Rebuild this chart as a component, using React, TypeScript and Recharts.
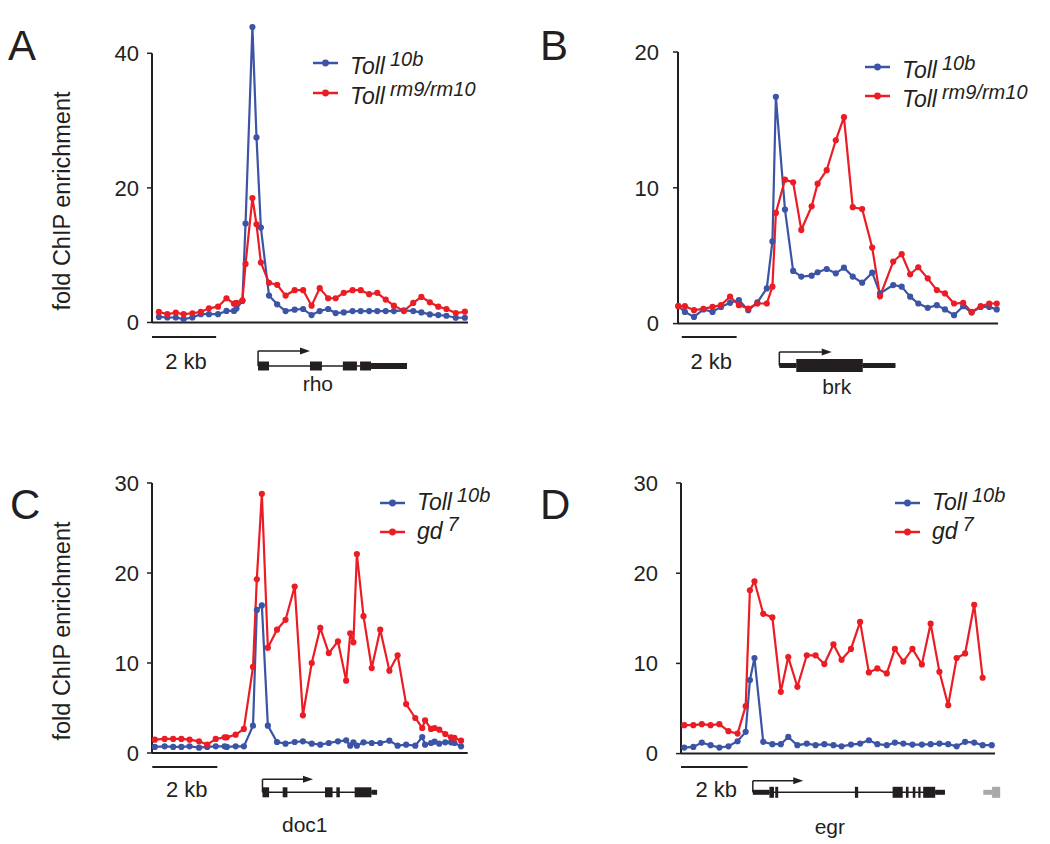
import React from 'react'
import { LineChart, Line, XAxis, YAxis, ReferenceLine } from 'recharts'

const FONT = '"Liberation Sans", Arial, Helvetica, sans-serif'
const INK = '#231f20'
const BLUE = '#3b54a5'
const RED = '#ec1c24'
const GREY = '#a7a9ac'

// positions along the locus, kb from the left end of each window
const rhoPos = [0.22, 0.49, 0.76, 1.01, 1.29, 1.56, 1.82, 2.11, 2.38, 2.62, 2.7, 2.89, 2.99, 3.21, 3.34, 3.48, 3.74, 4.0, 4.27, 4.56, 4.83, 5.1, 5.36, 5.63, 5.87, 6.13, 6.41, 6.67, 6.94, 7.2, 7.47, 7.73, 8.05, 8.35, 8.61, 8.88, 9.15, 9.41, 9.71, 10.0]
const rhoToll10b = [0.83, 0.74, 0.74, 0.49, 0.74, 1.23, 1.23, 1.23, 1.72, 1.72, 2.06, 3.19, 14.7, 43.9, 27.5, 14.1, 4.0, 2.7, 1.7, 1.9, 2.0, 1.1, 1.7, 2.0, 1.4, 1.5, 1.7, 1.7, 1.7, 1.7, 1.7, 1.7, 1.8, 1.7, 1.5, 1.2, 1.1, 1.0, 0.7, 0.7]
const rhoTollRm = [1.57, 1.23, 1.47, 1.23, 1.37, 1.57, 2.1, 2.35, 3.6, 2.8, 2.9, 3.3, 8.7, 18.5, 14.6, 8.9, 5.9, 5.6, 4.0, 4.8, 4.8, 2.5, 5.1, 3.6, 3.6, 4.4, 4.8, 4.8, 4.2, 4.4, 3.4, 2.5, 1.7, 2.9, 3.8, 3.0, 2.35, 2.0, 1.4, 1.6]

const brkPos = [0.01, 0.22, 0.51, 0.81, 1.1, 1.37, 1.66, 1.94, 2.24, 2.53, 2.83, 3.01, 3.12, 3.41, 3.67, 3.93, 4.26, 4.45, 4.74, 5.03, 5.29, 5.57, 5.87, 6.19, 6.44, 6.86, 7.13, 7.4, 7.66, 7.96, 8.25, 8.51, 8.8, 9.09, 9.36, 9.65, 9.92, 10.16]
const brkToll10b = [1.28, 0.86, 0.49, 1.04, 0.86, 1.23, 1.53, 1.73, 0.99, 1.56, 2.59, 6.05, 16.7, 8.4, 3.88, 3.46, 3.53, 3.78, 4.02, 3.7, 4.12, 3.46, 3.01, 3.75, 2.22, 2.84, 2.72, 1.98, 1.48, 1.16, 1.36, 1.04, 0.62, 1.28, 0.81, 1.23, 1.23, 1.04]
const brkTollRm = [1.28, 1.28, 0.99, 1.09, 1.23, 1.36, 1.98, 1.36, 1.11, 1.48, 1.48, 2.72, 8.15, 10.6, 10.4, 6.9, 8.64, 10.3, 11.3, 13.5, 15.2, 8.57, 8.44, 5.6, 2.02, 4.57, 5.11, 3.63, 4.15, 3.33, 2.47, 2.22, 1.48, 1.53, 0.86, 1.28, 1.48, 1.48]

const doc1Pos = [0.09, 0.4, 0.67, 0.93, 1.19, 1.49, 1.75, 2.02, 2.3, 2.37, 2.65, 2.91, 3.2, 3.32, 3.48, 3.67, 3.96, 4.23, 4.52, 4.78, 5.06, 5.33, 5.6, 5.89, 6.15, 6.28, 6.38, 6.49, 6.7, 6.96, 7.23, 7.52, 7.78, 8.05, 8.34, 8.56, 8.65, 8.84, 8.95, 9.1, 9.29, 9.47, 9.58, 9.79]
const doc1Toll10b = [0.67, 0.74, 0.67, 0.67, 0.74, 0.59, 0.67, 0.74, 0.74, 0.67, 0.74, 0.74, 3.04, 15.9, 16.4, 3.04, 1.22, 1.04, 1.22, 1.3, 1.04, 0.93, 1.11, 1.3, 1.41, 0.81, 1.19, 0.81, 1.19, 1.11, 1.11, 1.37, 0.81, 0.93, 0.81, 1.78, 0.93, 1.11, 1.26, 1.04, 1.19, 1.19, 1.11, 0.74]
const doc1Gd7 = [1.48, 1.56, 1.56, 1.56, 1.48, 1.3, 0.93, 1.56, 1.74, 1.74, 2.04, 2.67, 9.56, 19.3, 28.8, 11.7, 13.7, 14.8, 18.5, 4.19, 10.0, 13.9, 11.1, 12.4, 8.04, 13.3, 12.3, 22.1, 15.2, 9.44, 13.7, 9.15, 10.85, 5.44, 3.89, 2.78, 3.63, 2.67, 2.78, 2.59, 2.11, 1.74, 1.67, 1.37]

const egrPos = [0.1, 0.38, 0.64, 0.91, 1.18, 1.46, 1.74, 1.99, 2.12, 2.26, 2.53, 2.81, 3.07, 3.3, 3.58, 3.87, 4.14, 4.41, 4.69, 4.94, 5.23, 5.51, 5.78, 6.04, 6.33, 6.58, 6.84, 7.12, 7.41, 7.68, 7.95, 8.22, 8.48, 8.74, 9.02, 9.28, 9.56]
const egrToll10b = [0.67, 0.74, 1.22, 0.93, 0.67, 0.81, 1.37, 2.41, 8.15, 10.6, 1.3, 1.04, 1.04, 1.85, 0.93, 1.11, 0.93, 1.04, 0.93, 0.81, 1.0, 1.11, 1.48, 1.04, 0.93, 1.22, 1.11, 1.0, 1.0, 1.04, 1.11, 1.04, 0.81, 1.3, 1.22, 0.93, 0.93]
const egrGd7 = [3.15, 3.15, 3.26, 3.15, 3.26, 2.48, 2.22, 5.26, 18.1, 19.1, 15.5, 15.1, 6.85, 10.7, 7.41, 10.9, 10.9, 9.93, 12.1, 10.4, 11.6, 14.6, 9.0, 9.44, 8.89, 11.6, 10.2, 11.6, 9.89, 14.4, 9.07, 5.37, 10.6, 11.1, 16.5, 8.41, null]

// gene models (kb): [start, end, part]
type Part = 'cds' | 'utr'
const rhoExons: [number, number, Part][] = [[3.39, 3.74, 'cds'], [5.05, 5.43, 'cds'], [6.1, 6.55, 'cds'], [6.65, 7.0, 'cds'], [7.0, 8.15, 'utr']]
const brkExons: [number, number, Part][] = [[3.23, 3.77, 'utr'], [3.77, 5.89, 'cds'], [5.89, 6.93, 'utr']]
const doc1Exons: [number, number, Part][] = [[3.49, 3.7, 'cds'], [4.13, 4.28, 'cds'], [5.47, 5.71, 'cds'], [5.83, 5.94, 'cds'], [6.41, 6.94, 'cds'], [6.94, 7.12, 'utr']]
const egrExons: [number, number, Part][] = [[2.21, 2.72, 'utr'], [2.72, 2.86, 'cds'], [2.9, 2.99, 'cds'], [5.35, 5.45, 'cds'], [6.51, 6.82, 'cds'], [6.92, 7.0, 'cds'], [7.13, 7.21, 'cds'], [7.3, 7.37, 'cds'], [7.45, 7.82, 'cds'], [7.82, 8.12, 'utr']]
const egrNeighbour: [number, number, Part][] = [[9.3, 9.57, 'utr'], [9.57, 9.82, 'cds']]

type Panel = {
  letter: string
  letterX: number
  letterY: number
  plotLeft: number
  plotRight: number
  zeroY: number
  topTickY: number
  yTicks: number[]
  yTop: number
  xMax: number
  tickMargin: number
  pos: number[]
  blue: (number | null)[]
  red: (number | null)[]
  redName: string
  redSup: string
  legendX: number
  legendY: number
  legendGap: number
  textDy: number
  gene: {
    name: string
    tss: number
    arrowEnd: number
    end: number
    exons: [number, number, Part][]
    extra?: [number, number, Part][]
    labelKb: number
    bar: [number, number]
    barY: number
    barTextY: number
    arrowTop: number
    lineY: number
    cdsH: number
    utrH: number
    labelY: number
  }
}

const panels: Panel[] = [
  {
    letter: 'A', letterX: 8, letterY: 60,
    plotLeft: 152, plotRight: 468, zeroY: 322.5, topTickY: 53.3,
    yTicks: [0, 20, 40], yTop: 44.5, xMax: 10.1, tickMargin: 8,
    pos: rhoPos, blue: rhoToll10b, red: rhoTollRm,
    redName: 'Toll', redSup: 'rm9/rm10',
    legendX: 313, legendY: 63, legendGap: 30, textDy: 11,
    gene: {
      name: 'rho', tss: 3.39, arrowEnd: 5.05, end: 8.15, exons: rhoExons, labelKb: 5.3,
      bar: [0, 2.05], barY: 337, barTextY: 369, arrowTop: 351, lineY: 366, cdsH: 9, utrH: 6, labelY: 391,
    },
  },
  {
    letter: 'B', letterX: 540, letterY: 60,
    plotLeft: 678, plotRight: 998, zeroY: 323.3, topTickY: 51.7,
    yTicks: [0, 10, 20], yTop: 20, xMax: 10.2, tickMargin: 14,
    pos: brkPos, blue: brkToll10b, red: brkTollRm,
    redName: 'Toll', redSup: 'rm9/rm10',
    legendX: 865, legendY: 67, legendGap: 29, textDy: 11,
    gene: {
      name: 'brk', tss: 3.23, arrowEnd: 4.9, end: 6.93, exons: brkExons, labelKb: 5.06,
      bar: [0.12, 1.87], barY: 337, barTextY: 369, arrowTop: 352, lineY: 365.5, cdsH: 13, utrH: 5, labelY: 394,
    },
  },
  {
    letter: 'C', letterX: 10, letterY: 519,
    plotLeft: 152.3, plotRight: 468, zeroY: 753.3, topTickY: 483.3,
    yTicks: [0, 10, 20, 30], yTop: 30, xMax: 10, tickMargin: 8,
    pos: doc1Pos, blue: doc1Toll10b, red: doc1Gd7,
    redName: 'gd', redSup: '7',
    legendX: 380, legendY: 503, legendGap: 29, textDy: 7,
    gene: {
      name: 'doc1', tss: 3.49, arrowEnd: 5.09, end: 7.12, exons: doc1Exons, labelKb: 4.83,
      bar: [0, 2.06], barY: 767, barTextY: 797, arrowTop: 779.3, lineY: 792.3, cdsH: 10, utrH: 5, labelY: 832,
    },
  },
  {
    letter: 'D', letterX: 540, letterY: 519,
    plotLeft: 681, plotRight: 995, zeroY: 753.3, topTickY: 482.7,
    yTicks: [0, 10, 20, 30], yTop: 30, xMax: 9.66, tickMargin: 18,
    pos: egrPos, blue: egrToll10b, red: egrGd7,
    redName: 'gd', redSup: '7',
    legendX: 895, legendY: 503, legendGap: 29, textDy: 7,
    gene: {
      name: 'egr', tss: 2.21, arrowEnd: 3.76, end: 8.12, exons: egrExons, extra: egrNeighbour, labelKb: 4.58,
      bar: [0, 2.05], barY: 767, barTextY: 797, arrowTop: 780.7, lineY: 792.3, cdsH: 11, utrH: 5, labelY: 834,
    },
  },
]

const Y_AXIS_W = 60
const M_TOP = 20
const M_RIGHT = 10
const X_AXIS_H = 14

function ChipChart({ p }: { p: Panel }) {
  const topTick = p.yTicks[p.yTicks.length - 1]
  const pxPerUnit = (p.zeroY - p.topTickY) / topTick
  const plotTop = p.zeroY - p.yTop * pxPerUnit
  const plotH = p.zeroY - plotTop
  const width = Y_AXIS_W + (p.plotRight - p.plotLeft) + M_RIGHT
  const height = M_TOP + plotH + X_AXIS_H
  const rows = p.pos.map((x, i) => ({ x, blue: p.blue[i], red: p.red[i] }))
  const xTicks = [0, 2, 4, 6, 8, 10].filter((t) => t <= p.xMax)

  return (
    <div style={{ position: 'absolute', left: p.plotLeft - Y_AXIS_W, top: plotTop - M_TOP }}>
      <LineChart width={width} height={height} data={rows} margin={{ top: M_TOP, right: M_RIGHT, bottom: 0, left: 0 }}>
        <XAxis
          type="number"
          dataKey="x"
          domain={[0, p.xMax]}
          ticks={xTicks}
          tick={false}
          tickSize={4}
          height={X_AXIS_H}
          axisLine={{ stroke: INK, strokeWidth: 2 }}
          tickLine={{ stroke: INK, strokeWidth: 1.5 }}
        />
        <YAxis
          type="number"
          domain={[0, p.yTop]}
          ticks={p.yTicks}
          interval={0}
          width={Y_AXIS_W}
          axisLine={false}
          tickLine={{ stroke: INK, strokeWidth: 1.5 }}
          tickSize={5}
          tickMargin={p.tickMargin}
          tick={{ fill: INK, fontSize: 22, fontFamily: FONT }}
        />
        <ReferenceLine segment={[{ x: 0, y: 0 }, { x: 0, y: topTick }]} stroke={INK} strokeWidth={2} />
        <Line
          type="linear"
          dataKey="blue"
          stroke={BLUE}
          strokeWidth={2.2}
          dot={{ r: 3.1, fill: BLUE, stroke: BLUE, strokeWidth: 0 }}
          isAnimationActive={false}
        />
        <Line
          type="linear"
          dataKey="red"
          stroke={RED}
          strokeWidth={2.2}
          dot={{ r: 3.1, fill: RED, stroke: RED, strokeWidth: 0 }}
          isAnimationActive={false}
        />
      </LineChart>
    </div>
  )
}

function LegendRow({ x, y, color, name, sup, textDy }: { x: number; y: number; color: string; name: string; sup: string; textDy: number }) {
  return (
    <g>
      <line x1={x} x2={x + 25} y1={y} y2={y} stroke={color} strokeWidth={2.5} />
      <circle cx={x + 12.5} cy={y} r={3.4} fill={color} />
      <text x={x + 37} y={y + textDy} fontFamily={FONT} fontStyle="italic" fill={INK}>
        <tspan fontSize={23}>{name}</tspan>
        <tspan fontSize={20} dx={5} dy={-8}>{sup}</tspan>
      </text>
    </g>
  )
}

function GeneModel({ p }: { p: Panel }) {
  const g = p.gene
  const k = (p.plotRight - p.plotLeft) / p.xMax
  const px = (kb: number) => p.plotLeft + kb * k
  const box = (e: [number, number, Part], i: number, fill: string) => {
    const h = e[2] === 'cds' ? g.cdsH : g.utrH
    return <rect key={i} x={px(e[0])} y={g.lineY - h / 2} width={px(e[1]) - px(e[0])} height={h} fill={fill} />
  }
  const tssX = px(g.tss)
  const arrowX = px(g.arrowEnd)
  return (
    <g>
      <line x1={px(g.bar[0])} x2={px(g.bar[1])} y1={g.barY} y2={g.barY} stroke={INK} strokeWidth={2} />
      <text x={(px(g.bar[0]) + px(g.bar[1])) / 2 + 2} y={g.barTextY} textAnchor="middle" fontFamily={FONT} fontSize={22} fill={INK}>
        2 kb
      </text>
      <line x1={tssX} x2={tssX} y1={g.arrowTop} y2={g.lineY} stroke={INK} strokeWidth={1.5} />
      <line x1={tssX} x2={arrowX - 7} y1={g.arrowTop} y2={g.arrowTop} stroke={INK} strokeWidth={1.5} />
      <polygon points={`${arrowX},${g.arrowTop} ${arrowX - 10},${g.arrowTop - 3.5} ${arrowX - 10},${g.arrowTop + 3.5}`} fill={INK} />
      <line x1={tssX} x2={px(g.end)} y1={g.lineY} y2={g.lineY} stroke={INK} strokeWidth={1.6} />
      {g.exons.map((e, i) => box(e, i, INK))}
      {g.extra && g.extra.map((e, i) => box(e, 100 + i, GREY))}
      <text x={px(g.labelKb)} y={g.labelY} textAnchor="middle" fontFamily={FONT} fontSize={21} fill={INK}>
        {g.name}
      </text>
    </g>
  )
}

export default function App() {
  return (
    <div style={{ position: 'absolute', left: 0, top: 0, width: 1050, height: 844, background: '#fff', overflow: 'hidden' }}>
      {panels.map((p) => (
        <ChipChart key={p.letter} p={p} />
      ))}
      <svg width={1050} height={844} style={{ position: 'absolute', left: 0, top: 0, pointerEvents: 'none' }}>
        {panels.map((p) => (
          <g key={p.letter}>
            <text x={p.letterX} y={p.letterY} fontFamily={FONT} fontSize={42} fill={INK}>
              {p.letter}
            </text>
            <LegendRow x={p.legendX} y={p.legendY} color={BLUE} name="Toll" sup="10b" textDy={p.textDy} />
            <LegendRow x={p.legendX} y={p.legendY + p.legendGap} color={RED} name={p.redName} sup={p.redSup} textDy={p.textDy} />
            <GeneModel p={p} />
          </g>
        ))}
        <text transform="translate(70, 201) rotate(-90)" textAnchor="middle" fontFamily={FONT} fontSize={23.5} fill={INK}>
          fold ChIP enrichment
        </text>
        <text transform="translate(70, 631) rotate(-90)" textAnchor="middle" fontFamily={FONT} fontSize={23.5} fill={INK}>
          fold ChIP enrichment
        </text>
      </svg>
    </div>
  )
}
